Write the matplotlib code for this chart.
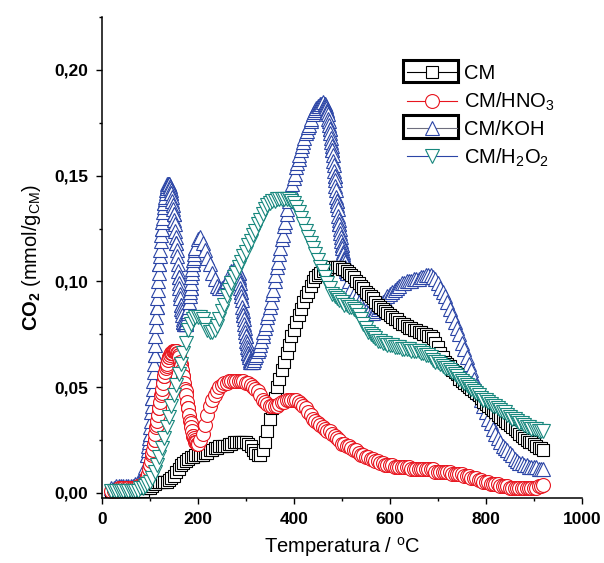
import matplotlib
matplotlib.use("Agg")
import matplotlib.pyplot as plt
from matplotlib.lines import Line2D
from matplotlib.patches import Rectangle
from matplotlib.ticker import FuncFormatter, MultipleLocator

plt.rcParams['font.family'] = ['Liberation Sans', 'DejaVu Sans']
plt.rcParams['mathtext.fontset'] = 'custom'
plt.rcParams['mathtext.rm'] = 'Liberation Sans'
plt.rcParams['mathtext.bf'] = 'Liberation Sans:bold'
plt.rcParams['mathtext.it'] = 'Liberation Sans:italic'

# temperatura (°C), lecturas cada 5 grados de 20 a 920
temp = list(range(20, 925, 5))

# CO2 (mmol/g), una fila = 50 °C
co2_cm = [
    0.001, 0.001, 0.001, 0.001, 0.001, 0.001, 0.001, 0.001, 0.001, 0.001,
    0.001, 0.001, 0.001, 0.001, 0.002, 0.002, 0.002, 0.003, 0.004, 0.005,
    0.005, 0.005, 0.005, 0.005, 0.006, 0.007, 0.008, 0.010, 0.011, 0.013,
    0.014, 0.015, 0.016, 0.017, 0.017, 0.018, 0.018, 0.018, 0.018, 0.019,
    0.019, 0.020, 0.020, 0.021, 0.021, 0.022, 0.022, 0.022, 0.022, 0.023,
    0.023, 0.024, 0.024, 0.024, 0.024, 0.024, 0.024, 0.023, 0.022, 0.020,
    0.019, 0.018, 0.018, 0.020, 0.024, 0.029, 0.035, 0.040, 0.045, 0.050,
    0.054, 0.058, 0.062, 0.066, 0.070, 0.074, 0.077, 0.081, 0.084, 0.087,
    0.090, 0.093, 0.095, 0.098, 0.100, 0.102, 0.103, 0.104, 0.105, 0.106,
    0.106, 0.107, 0.107, 0.107, 0.107, 0.107, 0.106, 0.106, 0.105, 0.104,
    0.103, 0.102, 0.100, 0.099, 0.098, 0.097, 0.095, 0.094, 0.093, 0.092,
    0.090, 0.089, 0.088, 0.087, 0.086, 0.085, 0.084, 0.083, 0.082, 0.082,
    0.081, 0.080, 0.080, 0.079, 0.078, 0.078, 0.077, 0.077, 0.076, 0.076,
    0.075, 0.075, 0.074, 0.074, 0.073, 0.071, 0.069, 0.066, 0.064, 0.062,
    0.061, 0.060, 0.058, 0.057, 0.056, 0.054, 0.053, 0.052, 0.051, 0.050,
    0.049, 0.048, 0.047, 0.046, 0.045, 0.043, 0.042, 0.041, 0.040, 0.039,
    0.038, 0.037, 0.036, 0.035, 0.034, 0.033, 0.032, 0.031, 0.030, 0.029,
    0.028, 0.027, 0.026, 0.025, 0.024, 0.024, 0.023, 0.022, 0.021, 0.021,
    0.020]

co2_hno3 = [
    0.001, 0.001, 0.001, 0.002, 0.002, 0.002, 0.002, 0.002, 0.002, 0.002,
    0.002, 0.003, 0.003, 0.004, 0.005, 0.008, 0.013, 0.019, 0.025, 0.032,
    0.040, 0.047, 0.055, 0.060, 0.064, 0.066, 0.067, 0.067, 0.065, 0.061,
    0.055, 0.048, 0.040, 0.033, 0.027, 0.024, 0.023, 0.025, 0.028, 0.032,
    0.037, 0.041, 0.044, 0.046, 0.048, 0.050, 0.051, 0.052, 0.052, 0.053,
    0.053, 0.053, 0.053, 0.053, 0.053, 0.053, 0.052, 0.052, 0.051, 0.050,
    0.049, 0.048, 0.046, 0.044, 0.043, 0.042, 0.041, 0.041, 0.041, 0.041,
    0.042, 0.043, 0.043, 0.044, 0.044, 0.044, 0.044, 0.044, 0.043, 0.042,
    0.041, 0.040, 0.038, 0.037, 0.035, 0.034, 0.033, 0.032, 0.031, 0.030,
    0.029, 0.029, 0.028, 0.027, 0.026, 0.025, 0.023, 0.023, 0.022, 0.022,
    0.021, 0.020, 0.020, 0.019, 0.018, 0.018, 0.017, 0.017, 0.016, 0.016,
    0.015, 0.015, 0.014, 0.014, 0.013, 0.013, 0.013, 0.013, 0.012, 0.012,
    0.012, 0.012, 0.012, 0.012, 0.012, 0.011, 0.011, 0.011, 0.011, 0.011,
    0.011, 0.011, 0.011, 0.011, 0.011, 0.010, 0.010, 0.010, 0.010, 0.010,
    0.010, 0.010, 0.009, 0.009, 0.009, 0.009, 0.009, 0.008, 0.008, 0.008,
    0.007, 0.007, 0.007, 0.006, 0.006, 0.005, 0.005, 0.005, 0.004, 0.004,
    0.004, 0.004, 0.003, 0.003, 0.003, 0.003, 0.002, 0.002, 0.002, 0.002,
    0.002, 0.002, 0.002, 0.002, 0.002, 0.002, 0.002, 0.002, 0.003, 0.003,
    0.0035]

co2_koh = [
    0.002, 0.002, 0.003, 0.003, 0.003, 0.003, 0.003, 0.003, 0.003, 0.003,
    0.004, 0.005, 0.006, 0.008, 0.012, 0.018, 0.028, 0.045, 0.065, 0.088,
    0.108, 0.125, 0.137, 0.144, 0.146, 0.142, 0.132, 0.118, 0.102, 0.089,
    0.081, 0.080, 0.086, 0.097, 0.108, 0.116, 0.120, 0.121, 0.118, 0.115,
    0.111, 0.108, 0.104, 0.101, 0.098, 0.097, 0.097, 0.098, 0.100, 0.102,
    0.105, 0.106, 0.107, 0.104, 0.095, 0.084, 0.074, 0.066, 0.062, 0.062,
    0.064, 0.067, 0.070, 0.074, 0.078, 0.083, 0.088, 0.094, 0.100, 0.107,
    0.113, 0.120, 0.126, 0.132, 0.138, 0.144, 0.149, 0.154, 0.158, 0.162,
    0.166, 0.170, 0.173, 0.176, 0.179, 0.181, 0.183, 0.184, 0.185, 0.184,
    0.180, 0.172, 0.162, 0.150, 0.138, 0.127, 0.117, 0.110, 0.104, 0.100,
    0.097, 0.094, 0.092, 0.090, 0.089, 0.087, 0.086, 0.085, 0.085, 0.085,
    0.086, 0.087, 0.088, 0.090, 0.091, 0.093, 0.094, 0.095, 0.096, 0.097,
    0.098, 0.099, 0.099, 0.100, 0.100, 0.100, 0.101, 0.101, 0.101, 0.102,
    0.102, 0.103, 0.103, 0.103, 0.102, 0.101, 0.099, 0.097, 0.095, 0.093,
    0.090, 0.087, 0.084, 0.081, 0.078, 0.075, 0.071, 0.068, 0.064, 0.061,
    0.058, 0.054, 0.051, 0.047, 0.044, 0.041, 0.038, 0.035, 0.033, 0.030,
    0.028, 0.026, 0.024, 0.022, 0.021, 0.020, 0.019, 0.018, 0.016, 0.015,
    0.014, 0.014, 0.013, 0.013, 0.012, 0.012, 0.012, 0.012, 0.011, 0.011,
    0.011]

co2_h2o2 = [
    0.001, 0.001, 0.001, 0.001, 0.001, 0.001, 0.001, 0.001, 0.001, 0.001,
    0.001, 0.001, 0.002, 0.002, 0.003, 0.004, 0.005, 0.007, 0.010, 0.013,
    0.017, 0.021, 0.026, 0.031, 0.036, 0.041, 0.046, 0.051, 0.056, 0.061,
    0.066, 0.071, 0.077, 0.080, 0.082, 0.083, 0.083, 0.083, 0.082, 0.080,
    0.077, 0.076, 0.076, 0.077, 0.079, 0.082, 0.086, 0.089, 0.093, 0.096,
    0.099, 0.102, 0.104, 0.107, 0.109, 0.112, 0.114, 0.117, 0.119, 0.122,
    0.124, 0.127, 0.129, 0.132, 0.134, 0.136, 0.137, 0.138, 0.138, 0.139,
    0.139, 0.139, 0.139, 0.139, 0.139, 0.138, 0.137, 0.135, 0.133, 0.130,
    0.127, 0.124, 0.121, 0.118, 0.116, 0.113, 0.110, 0.107, 0.105, 0.102,
    0.099, 0.097, 0.094, 0.093, 0.092, 0.091, 0.090, 0.089, 0.089, 0.088,
    0.088, 0.087, 0.086, 0.084, 0.082, 0.080, 0.078, 0.076, 0.075, 0.074,
    0.073, 0.072, 0.072, 0.071, 0.071, 0.070, 0.070, 0.070, 0.069, 0.069,
    0.069, 0.068, 0.068, 0.068, 0.068, 0.067, 0.067, 0.067, 0.067, 0.066,
    0.066, 0.065, 0.065, 0.064, 0.063, 0.062, 0.062, 0.061, 0.060, 0.059,
    0.059, 0.058, 0.057, 0.056, 0.055, 0.054, 0.053, 0.052, 0.051, 0.050,
    0.049, 0.048, 0.047, 0.046, 0.045, 0.044, 0.044, 0.043, 0.042, 0.041,
    0.041, 0.040, 0.039, 0.038, 0.038, 0.037, 0.036, 0.035, 0.035, 0.034,
    0.033, 0.033, 0.032, 0.031, 0.031, 0.030, 0.030, 0.030, 0.029, 0.029,
    0.029]

# lecturas extra en los tramos de mucha pendiente
temp_hno3_fino = list(range(96, 200, 2))
co2_hno3_fino = [
    0.009, 0.011, 0.013, 0.015, 0.018, 0.020, 0.023, 0.025, 0.028, 0.031,
    0.034, 0.037, 0.040, 0.043, 0.046, 0.049, 0.052, 0.055, 0.057, 0.059,
    0.061, 0.063, 0.064, 0.065, 0.066, 0.066, 0.067, 0.067, 0.067, 0.067,
    0.066, 0.066, 0.065, 0.064, 0.062, 0.060, 0.058, 0.055, 0.052, 0.049,
    0.046, 0.043, 0.040, 0.037, 0.034, 0.031, 0.029, 0.027, 0.026, 0.025,
    0.024, 0.023]

temp_koh_fino = (list(range(95, 196)) + list(range(285, 311))
                 + list(range(312, 462, 5)) + list(range(465, 511)))
co2_koh_fino = [
    # 95-195
    0.018, 0.020, 0.022, 0.024, 0.026, 0.028, 0.031, 0.034, 0.038, 0.041,
    0.045, 0.049, 0.053, 0.057, 0.061, 0.065, 0.070, 0.074, 0.079, 0.083,
    0.088, 0.092, 0.096, 0.100, 0.104, 0.108, 0.112, 0.115, 0.119, 0.122,
    0.125, 0.128, 0.130, 0.133, 0.135, 0.137, 0.139, 0.140, 0.142, 0.143,
    0.144, 0.145, 0.146, 0.146, 0.146, 0.146, 0.146, 0.145, 0.144, 0.143,
    0.142, 0.140, 0.138, 0.136, 0.134, 0.132, 0.129, 0.127, 0.124, 0.121,
    0.118, 0.115, 0.112, 0.108, 0.105, 0.102, 0.099, 0.097, 0.094, 0.092,
    0.089, 0.087, 0.086, 0.084, 0.082, 0.081, 0.080, 0.080, 0.080, 0.080,
    0.080, 0.081, 0.082, 0.083, 0.085, 0.086, 0.088, 0.090, 0.093, 0.095,
    0.097, 0.099, 0.102, 0.104, 0.106, 0.108, 0.110, 0.111, 0.113, 0.115,
    0.116,
    # 285-310
    0.104, 0.102, 0.101, 0.099, 0.097, 0.095, 0.093, 0.091, 0.088, 0.086,
    0.084, 0.082, 0.080, 0.078, 0.076, 0.074, 0.072, 0.071, 0.069, 0.068,
    0.066, 0.065, 0.064, 0.063, 0.062, 0.062,
    # 312-457
    0.062, 0.063, 0.065, 0.068, 0.072, 0.076, 0.080, 0.085, 0.090, 0.096,
    0.103, 0.109, 0.116, 0.122, 0.128, 0.134, 0.140, 0.146, 0.151, 0.156,
    0.160, 0.164, 0.168, 0.171, 0.174, 0.177, 0.180, 0.182, 0.183, 0.184,
    # 465-510
    0.184, 0.183, 0.183, 0.182, 0.181, 0.180, 0.179, 0.177, 0.176, 0.174,
    0.172, 0.170, 0.168, 0.166, 0.164, 0.162, 0.160, 0.157, 0.155, 0.152,
    0.150, 0.148, 0.145, 0.143, 0.140, 0.138, 0.136, 0.134, 0.131, 0.129,
    0.127, 0.125, 0.123, 0.121, 0.119, 0.117, 0.116, 0.114, 0.113, 0.111,
    0.110, 0.109, 0.107, 0.106, 0.105, 0.104]


def juntar(t1, y1, t2, y2):
    pares = sorted(zip(t1 + t2, y1 + y2))
    return [p[0] for p in pares], [p[1] for p in pares]


t_hno3, y_hno3 = juntar(temp, co2_hno3, temp_hno3_fino, co2_hno3_fino)
t_koh, y_koh = juntar(temp, co2_koh, temp_koh_fino, co2_koh_fino)

c_cm = '#000000'
c_hno3 = '#e8141e'
c_koh = '#2b45a6'
c_h2o2 = '#17877d'

fig = plt.figure(figsize=(6.04, 5.63), dpi=100)
ax = fig.add_axes([0.1684, 0.1149, 0.7947, 0.8554])

common = dict(mfc='white', mew=0.8, lw=0.8)
ax.plot(t_koh, y_koh, '-', marker='^', color=c_koh, ms=10, **common)
ax.plot(temp, co2_cm, '-', marker='s', color=c_cm, ms=8.5, **common)
ax.plot(t_hno3, y_hno3, '-', marker='o', color=c_hno3, ms=10, **common)
ax.plot(temp, co2_h2o2, '-', marker='v', color=c_h2o2, ms=10, **common)

ax.set_xlim(0, 1000)
ax.set_ylim(-0.00265, 0.2252)
ax.xaxis.set_major_locator(MultipleLocator(200))
ax.xaxis.set_minor_locator(MultipleLocator(100))
ax.yaxis.set_major_locator(MultipleLocator(0.05))
ax.yaxis.set_minor_locator(MultipleLocator(0.025))
ax.yaxis.set_major_formatter(FuncFormatter(lambda v, p: f"{v:.2f}".replace('.', ',')))

for s in ['top', 'right']:
    ax.spines[s].set_visible(False)
for s in ['left', 'bottom']:
    ax.spines[s].set_linewidth(1.1)

ax.tick_params(which='major', direction='out', length=4.5, width=1.0,
               labelsize=12.5, pad=5)
ax.tick_params(which='minor', direction='out', length=2.5, width=1.0)
for lab in ax.get_xticklabels() + ax.get_yticklabels():
    lab.set_fontweight('bold')

ax.set_xlabel('Temperatura / $^{\\mathrm{o}}$C', fontsize=14.5, labelpad=6)
ax.set_ylabel('$\\mathbf{CO_2}$ (mmol/g$_{\\mathrm{CM}}$)', fontsize=14.5, labelpad=8)

handles = [
    Line2D([], [], color=c_cm, marker='s', ms=8.5, mfc='white', mew=0.8, lw=0.8),
    Line2D([], [], color=c_hno3, marker='o', ms=10, mfc='white', mew=0.8, lw=0.8),
    Line2D([], [], color='#6e6e7e', marker='^', ms=10, mfc='white', mew=0.8,
           mec=c_koh, lw=0.8),
    Line2D([], [], color=c_koh, marker='v', ms=10, mfc='white', mew=0.8,
           mec=c_h2o2, lw=0.8),
]
labels = ['CM', 'CM/HNO$_3$', 'CM/KOH', 'CM/H$_2$O$_2$']
ax.legend(handles, labels, loc='upper left', bbox_to_anchor=(0.615, 0.922),
          frameon=False, fontsize=14.5, handlelength=2.5, handletextpad=0.35,
          labelspacing=0.36, borderpad=0)

for y0 in [0.865, 0.749]:
    ax.add_patch(Rectangle((0.627, y0), 0.116, 0.046, transform=ax.transAxes,
                           fill=False, lw=2.2, ec='black', clip_on=False))

fig.savefig('out.png', dpi=100)
